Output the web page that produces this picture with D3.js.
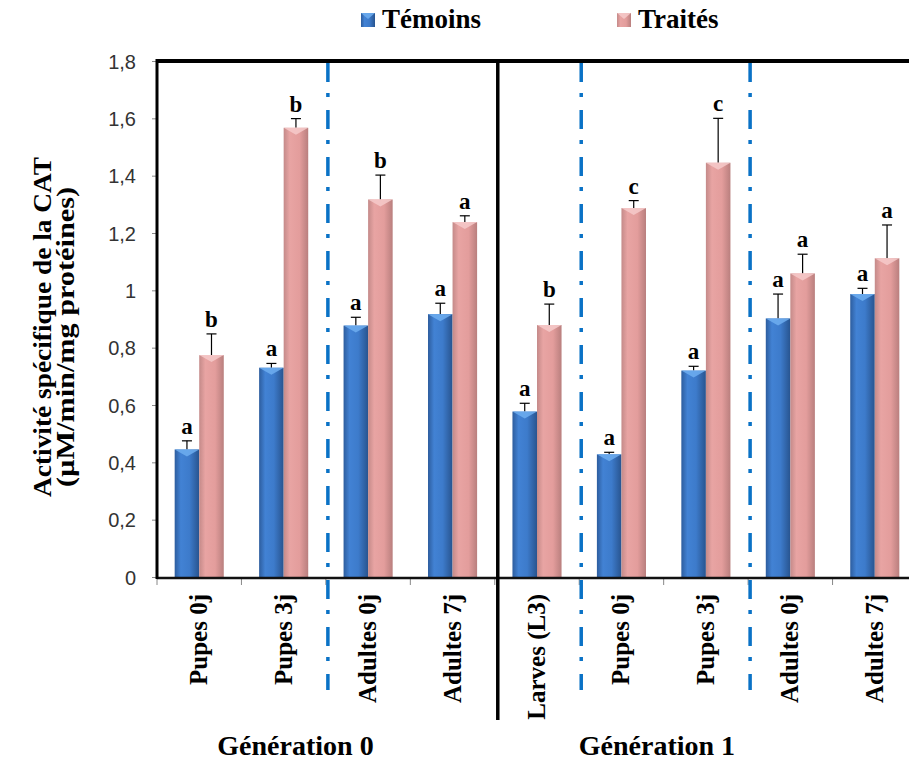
<!DOCTYPE html>
<html>
<head>
<meta charset="utf-8">
<script src="https://cdn.jsdelivr.net/npm/d3@7"></script>
<style>
  body { margin: 0; background: #fff; }
  svg { display: block; }
  .serif { font-family: "Liberation Serif", "Times New Roman", serif; font-weight: bold; fill: #000; }
  .ytick text { font-family: "Liberation Sans", Arial, sans-serif; font-size: 20px; fill: #333; }
</style>
</head>
<body>
<svg id="chart"></svg>
<script>
// data ---------------------------------------------
const categories = ['G0 Pupes 0j', 'G0 Pupes 3j', 'G0 Adultes 0j', 'G0 Adultes 7j',
  'G1 Larves (L3)', 'G1 Pupes 0j', 'G1 Pupes 3j', 'G1 Adultes 0j', 'G1 Adultes 7j'];
const categoryLabels = ['Pupes 0j', 'Pupes 3j', 'Adultes 0j', 'Adultes 7j',
  'Larves (L3)', 'Pupes 0j', 'Pupes 3j', 'Adultes 0j', 'Adultes 7j'];
const seriesNames = ['Témoins', 'Traités'];
const temoins = [0.445, 0.73, 0.877, 0.917, 0.577, 0.428, 0.72, 0.902, 0.987];
const temoinsErr = [0.03, 0.015, 0.029, 0.038, 0.029, 0.007, 0.015, 0.085, 0.02];
const traites = [0.774, 1.567, 1.317, 1.238, 0.879, 1.287, 1.445, 1.059, 1.112];
const traitesErr = [0.074, 0.032, 0.085, 0.022, 0.073, 0.026, 0.155, 0.067, 0.116];
const temoinsLetters = ['a', 'a', 'a', 'a', 'a', 'a', 'a', 'a', 'a'];
const traitesLetters = ['b', 'b', 'b', 'a', 'b', 'c', 'c', 'a', 'a'];
const yTicks = [0, 0.2, 0.4, 0.6, 0.8, 1, 1.2, 1.4, 1.6, 1.8];
const generations = ['Génération 0', 'Génération 1'];
const generationStart = [0, 4];          // first category index of each generation
const dashedBefore = [2, 5, 7];          // blue separators before these categories
const solidBefore = [4];                 // black separator before this category
const yTitle = ['Activité spécifique de la CAT', '(µM/min/mg protéines)'];
// --------------------------------------------------

const W = 909, H = 762;
const plot = { left: 157, top: 61, right: 917, bottom: 578 };

const svg = d3.select('#chart').attr('width', W).attr('height', H);

const x = d3.scaleBand().domain(categories).range([plot.left, plot.right]).padding(0);
const x1 = d3.scaleBand().domain(seriesNames).range([0, x.bandwidth()]).paddingInner(0).paddingOuter(0.72);
const y = d3.scaleLinear().domain([0, 1.8]).range([plot.bottom - 1, plot.top]);

const defs = svg.append('defs');
function barGradient(id, stops) {
  const g = defs.append('linearGradient').attr('id', id).attr('x1', '0%').attr('x2', '100%').attr('y1', '0%').attr('y2', '0%');
  stops.forEach(s => g.append('stop').attr('offset', s[0]).attr('stop-color', s[1]));
}
barGradient('gBlue', [['0%', '#2d5d9e'], ['25%', '#4282d4'], ['60%', '#3d7bcb'], ['100%', '#28548f']]);
barGradient('gPink', [['0%', '#c48a89'], ['25%', '#e8a4a3'], ['65%', '#e39d9c'], ['100%', '#b97f7e']]);
const fills = { 'Témoins': 'url(#gBlue)', 'Traités': 'url(#gPink)' };
const bevel = { 'Témoins': '#6eaef0', 'Traités': '#f6caca' };

// plot frame
svg.append('line').attr('x1', plot.left).attr('x2', W).attr('y1', plot.top).attr('y2', plot.top)
  .attr('stroke', '#000').attr('stroke-width', 4);

// y axis
const yAxis = svg.append('g').attr('class', 'ytick')
  .attr('transform', 'translate(' + plot.left + ',0)')
  .call(d3.axisLeft(y).tickValues(yTicks).tickSize(5).tickPadding(16)
    .tickFormat(d => String(+d.toFixed(1)).replace('.', ',')));
yAxis.select('.domain').remove();
yAxis.selectAll('.tick line').attr('stroke', '#888');
yAxis.selectAll('.tick text').attr('dy', '0.36em');

// x ticks at category boundaries
const xTickPos = categories.map(c => x(c)).concat([plot.right]);
svg.append('g').selectAll('line').data(xTickPos).join('line')
  .attr('x1', d => d).attr('x2', d => d).attr('y1', plot.bottom).attr('y2', plot.bottom + 7)
  .attr('stroke', '#888').attr('stroke-width', 1);

// separators
svg.append('g').selectAll('line').data(dashedBefore).join('line')
  .attr('x1', i => x(categories[i]) + 2).attr('x2', i => x(categories[i]) + 2)
  .attr('y1', plot.top + 2).attr('y2', 690)
  .attr('stroke', '#0a72c6').attr('stroke-width', 3.5).attr('stroke-dasharray', '19,11,4,13');

// bars
const rows = categories.map((c, i) => ([
  { cat: c, s: 'Témoins', v: temoins[i], e: temoinsErr[i], l: temoinsLetters[i] },
  { cat: c, s: 'Traités', v: traites[i], e: traitesErr[i], l: traitesLetters[i] }
])).flat();

const bars = svg.append('g').selectAll('g').data(rows).join('g')
  .attr('transform', d => 'translate(' + (x(d.cat) + x1(d.s)) + ',0)');
const bw = x1.bandwidth();

// error bars
bars.append('line').attr('x1', bw / 2).attr('x2', bw / 2)
  .attr('y1', d => y(d.v)).attr('y2', d => y(d.v + d.e)).attr('stroke', '#000').attr('stroke-width', 1.2);
bars.append('line').attr('x1', bw / 2 - 5).attr('x2', bw / 2 + 5)
  .attr('y1', d => y(d.v + d.e)).attr('y2', d => y(d.v + d.e)).attr('stroke', '#000').attr('stroke-width', 1.2);

bars.append('rect').attr('x', 0).attr('width', bw)
  .attr('y', d => y(d.v)).attr('height', d => y(0) - y(d.v))
  .attr('fill', d => fills[d.s]);
bars.append('path')
  .attr('d', d => 'M0,' + y(d.v) + 'H' + bw + 'L' + (bw / 2) + ',' + (y(d.v) + 7) + 'Z')
  .attr('fill', d => bevel[d.s]).attr('opacity', 0.85);

bars.append('text').attr('class', 'serif')
  .attr('x', bw / 2).attr('y', d => y(d.v + d.e) - 7)
  .attr('text-anchor', 'middle').style('font-size', '23px')
  .text(d => d.l);

// axis lines on top
svg.append('line').attr('x1', plot.left).attr('x2', W).attr('y1', plot.bottom).attr('y2', plot.bottom)
  .attr('stroke', '#111').attr('stroke-width', 2.5);
svg.append('line').attr('x1', plot.left).attr('x2', plot.left).attr('y1', plot.top - 2).attr('y2', plot.bottom + 1)
  .attr('stroke', '#000').attr('stroke-width', 3);

svg.append('g').selectAll('line').data(solidBefore).join('line')
  .attr('x1', i => x(categories[i]) + 3).attr('x2', i => x(categories[i]) + 3)
  .attr('y1', plot.top).attr('y2', 720)
  .attr('stroke', '#000').attr('stroke-width', 3.5);

// category labels
svg.append('g').selectAll('text').data(categories).join('text')
  .attr('class', 'serif').style('font-size', '25px')
  .attr('text-anchor', 'end')
  .attr('transform', c => 'translate(' + (x(c) + x.bandwidth() / 2 + 8) + ',594) rotate(-90)')
  .text((c, i) => categoryLabels[i]);

// generation labels
const genOffset = [1.64, 1.92];
svg.append('g').selectAll('text').data(generations).join('text')
  .attr('class', 'serif').style('font-size', '28px').attr('text-anchor', 'middle')
  .attr('x', (g, i) => x(categories[generationStart[i]]) + genOffset[i] * x.bandwidth())
  .attr('y', 755)
  .text(g => g);

// y title
const yTitleLen = [340, 300];
svg.append('g').selectAll('text').data(yTitle).join('text')
  .attr('class', 'serif').style('font-size', '26px').attr('text-anchor', 'middle')
  .attr('textLength', (t, i) => yTitleLen[i]).attr('lengthAdjust', 'spacingAndGlyphs')
  .attr('transform', (t, i) => 'translate(' + (51 + i * 23) + ',' + (327 + i * 10) + ') rotate(-90)')
  .text(t => t);

// legend
const legendX = [361, 617];
const legend = svg.append('g').selectAll('g').data(seriesNames).join('g')
  .attr('transform', (s, i) => 'translate(' + legendX[i] + ',13)');
legend.append('rect').attr('width', 14).attr('height', 14).attr('fill', s => fills[s]);
legend.append('path').attr('d', 'M0,0H14L7,6Z').attr('fill', s => bevel[s]).attr('opacity', 0.85);
legend.append('text').attr('class', 'serif').style('font-size', '27px')
  .attr('x', 21).attr('y', 15).text(s => s);
</script>
</body>
</html>
